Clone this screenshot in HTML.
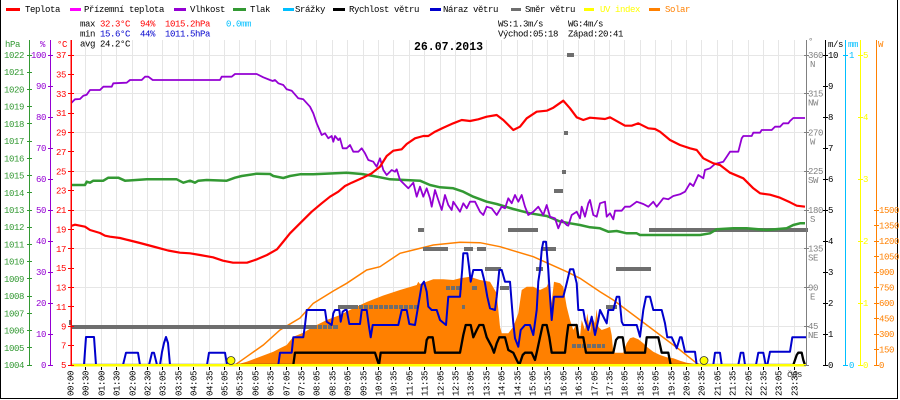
<!DOCTYPE html>
<html><head><meta charset="utf-8"><style>
html,body{margin:0;padding:0;background:#fff;}
svg{display:block;}
text{font-family:"Liberation Mono",monospace;font-size:9px;letter-spacing:-0.4px;}
</style></head><body>
<svg width="900" height="400" viewBox="0 0 900 400" xmlns="http://www.w3.org/2000/svg">
<rect x="0" y="0" width="900" height="400" fill="#fff"/>
<!-- frame -->
<path d="M0.5 0V398.5H897.5V0" fill="none" stroke="#000" stroke-width="1"/>

<!-- legend -->
<g>
<rect x="6" y="8" width="14" height="3" fill="#ff0000"/><text x="25" y="12" fill="#000">Teplota</text>
<rect x="70" y="8" width="11" height="3" fill="#ff00ff"/><text x="84" y="12" fill="#000">Přízemní teplota</text>
<rect x="174" y="8" width="12" height="3" fill="#9400d3"/><text x="190" y="12" fill="#000">Vlhkost</text>
<rect x="233" y="8" width="13" height="3" fill="#339933"/><text x="250" y="12" fill="#000">Tlak</text>
<rect x="283" y="8" width="11" height="3" fill="#00bfff"/><text x="295" y="12" fill="#000">Srážky</text>
<rect x="333" y="8" width="12" height="3" fill="#000"/><text x="349" y="12" fill="#000">Rychlost větru</text>
<rect x="430" y="8" width="11" height="3" fill="#0000cd"/><text x="443" y="12" fill="#000">Náraz větru</text>
<rect x="511" y="8" width="10" height="3" fill="#6e6e6e"/><text x="525" y="12" fill="#000">Směr větru</text>
<rect x="584" y="8" width="10" height="3" fill="#ffff00"/><text x="600" y="12" fill="#ffff00">UV index</text>
<rect x="649" y="8" width="11" height="3" fill="#ff8000"/><text x="665" y="12" fill="#ff8000">Solar</text>
</g>

<!-- stats -->
<text x="80" y="26.5" fill="#000">max</text>
<text x="100" y="26.5" fill="#ff0000">32.3°C</text>
<text x="140" y="26.5" fill="#ff0000">94%</text>
<text x="165" y="26.5" fill="#ff0000">1015.2hPa</text>
<text x="226" y="26.5" fill="#00bfff">0.0mm</text>
<text x="80" y="36.5" fill="#000">min</text>
<text x="100" y="36.5" fill="#0000cd">15.6°C</text>
<text x="140" y="36.5" fill="#0000cd">44%</text>
<text x="165" y="36.5" fill="#0000cd">1011.5hPa</text>
<text x="498" y="26.5" fill="#000">WS:1.3m/s</text>
<text x="568" y="26.5" fill="#000">WG:4m/s</text>
<text x="498" y="36.5" fill="#000">Východ:05:18</text>
<text x="568" y="36.5" fill="#000">Západ:20:41</text>

<!-- grid -->
<g stroke="#e6e6e6" stroke-width="1" shape-rendering="crispEdges">
<path d="M71 55.5H806M71 93.5H806M71 132.5H806M71 171.5H806M71 210.5H806M71 248.5H806M71 287.5H806M71 326.5H806"/>
<path d="M85.5 40V365M101.5 40V365M116.5 40V365M132.5 40V365M147.5 40V365M162.5 40V365M178.5 40V365M193.5 40V365M209.5 40V365M224.5 40V365M239.5 40V365M255.5 40V365M270.5 40V365M286.5 40V365M301.5 40V365M316.5 40V365M332.5 40V365M347.5 40V365M363.5 40V365M378.5 40V365M393.5 40V365M409.5 40V365M424.5 40V365M440.5 40V365M455.5 40V365M470.5 40V365M486.5 40V365M501.5 40V365M517.5 40V365M532.5 40V365M547.5 40V365M563.5 40V365M578.5 40V365M594.5 40V365M609.5 40V365M624.5 40V365M640.5 40V365M655.5 40V365M671.5 40V365M686.5 40V365M701.5 40V365M717.5 40V365M732.5 40V365M748.5 40V365M763.5 40V365M778.5 40V365M794.5 40V365"/>
</g>

<text x="80" y="46.5" fill="#000">avg 24.2°C</text>
<text x="414" y="50" fill="#000" style="font-size:11.5px;font-weight:bold;letter-spacing:0px">26.07.2013</text>

<!-- solar area -->
<polygon fill="#ff8000" points="235,365 246.7,361.7 260,356.7 273.3,351.7 280,348.3 286.7,345 293.3,336.7 303.3,332.7 313.3,326.7 326.7,320 340,315 353.3,308.3 366.7,302 383.3,295.5 400,290 416.7,285 418.3,281.7 420,284 433.3,279.3 443.3,279.3 453.3,280 460,278.3 470,276.7 480,280 490,281.7 496.7,293.3 500,326.7 501.7,333.3 508.3,333.3 513.3,326.7 518.3,313.3 521.7,290 526.7,286.7 533.3,286.7 540,290 546.7,286.7 548.3,283.3 550.7,310 554,281.7 560,283.3 563.3,286.7 565,296.7 566.7,306.7 570,320 573.3,330 576.7,323.3 580,336.7 581.7,320 585,330 587.3,313.3 590,333.3 591.7,316.7 595,323.3 596.7,309.3 598.3,326.7 601.7,330 606.7,328.3 610,326.7 611.7,335 613.3,352.7 623.3,352.7 626.7,343.3 630,338.3 633.3,337.3 638.3,339.3 643.3,343.3 646.7,346.7 653.3,351.7 660,355 666.7,357.3 673.3,358.3 680,360.7 686.7,362.7 695,364 700,365"/>
<!-- theoretical solar -->
<polyline fill="none" stroke="#ff8000" stroke-width="1.5" points="235,365 246.7,356.7 263.3,345 280,330 300,318 313.3,303.3 333.3,291 346.7,283.3 366.7,270 380,266.7 400,253.3 413.3,250 433.3,245 460,242.3 480,242.7 500,246.7 533.3,256.7 566.7,271.7 580,278.3 600,291.7 613.3,300 646.7,325 680,350 696.7,363.3 700,365"/>

<!-- wind direction -->
<g fill="#6e6e6e">
<rect x="69" y="320" width="3" height="5"/>
<rect x="71" y="325" width="246" height="4"/>
<rect x="318" y="325" width="4" height="4"/><rect x="323" y="325" width="4" height="4"/><rect x="328" y="325" width="4" height="4"/><rect x="333" y="325" width="5" height="4"/>
<rect x="338" y="305" width="20" height="4"/>
<rect x="359" y="305" width="4" height="4"/><rect x="364" y="305" width="4" height="4"/><rect x="369" y="305" width="4" height="4"/><rect x="374" y="305" width="4" height="4"/><rect x="379" y="305" width="4" height="4"/><rect x="384" y="305" width="4" height="4"/><rect x="389" y="305" width="4" height="4"/><rect x="394" y="305" width="4" height="4"/><rect x="399" y="305" width="4" height="4"/><rect x="404" y="305" width="4" height="4"/><rect x="409" y="305" width="4" height="4"/><rect x="414" y="305" width="4" height="4"/>
<rect x="418" y="228" width="6" height="4"/>
<rect x="423" y="247" width="25" height="4"/>
<rect x="446" y="286" width="4" height="4"/><rect x="451" y="286" width="4" height="4"/><rect x="456" y="286" width="6" height="4"/>
<rect x="462" y="305" width="3" height="4"/>
<rect x="464" y="247" width="9" height="4"/>
<rect x="472" y="286" width="5" height="4"/>
<rect x="477" y="247" width="9" height="4"/>
<rect x="485" y="267" width="16" height="4"/>
<rect x="500" y="286" width="9" height="4"/>
<rect x="508" y="228" width="30" height="4"/>
<rect x="536" y="267" width="7" height="4"/>
<rect x="541" y="247" width="15" height="4"/>
<rect x="554" y="189" width="9" height="4"/>
<rect x="562" y="170" width="4" height="4"/>
<rect x="564" y="131" width="4" height="4"/>
<rect x="567" y="53" width="7" height="4"/>
<rect x="572" y="344" width="4" height="4"/><rect x="577" y="344" width="4" height="4"/><rect x="582" y="344" width="4" height="4"/><rect x="587" y="344" width="4" height="4"/><rect x="592" y="344" width="4" height="4"/><rect x="597" y="344" width="4" height="4"/><rect x="602" y="344" width="3" height="4"/>
<rect x="606" y="305" width="11" height="4"/>
<rect x="616" y="267" width="35" height="4"/>
<rect x="649" y="228" width="159" height="4"/>
</g>

<!-- pressure -->
<polyline fill="none" stroke="#339933" stroke-width="2.5" stroke-linejoin="round" points="71,185 85,185 86.7,181.7 90,182.7 93.3,180.7 103.3,180.7 108.3,177.7 118.3,177.7 125,180.7 146.7,179.3 176.7,179.3 183.3,182.7 190,180.7 195,182.7 198.3,180.7 206.7,180 226.7,180.7 235,177.7 241.7,176 256.7,173.7 270,174 273.3,176 283.3,178 290,176 300,174.3 313.3,174.3 346.7,172.7 361.7,174 373.3,176 380,177.3 390,179.3 420,180.7 430,185 440,187.3 453.3,188.3 463.3,191.7 473.3,196.7 486.7,201.7 496.7,204 513.3,209 530,213.3 546.7,216 560,221.5 570,223.3 580,225 590,227.3 600,228.3 608.3,231.7 616.7,231 626.7,233.3 636.7,233.3 640,235 700,235 710,233.3 716.7,229.3 733.3,228.3 746.7,228.3 766.7,230 786.7,228.3 793.3,225 800,223.3 805,223.3"/>

<!-- humidity -->
<polyline fill="none" stroke="#9400d3" stroke-width="1.8" stroke-linejoin="round" points="71,103.3 75,99.3 80,99 83.3,95.7 86.7,94.7 90,90 100,90 103.3,86.7 111.7,86.7 113.3,83.3 126.7,82.7 130,80 141.7,80 145,76.7 148.3,76.7 152.7,80 220,80 221.7,76.7 231.7,76.7 235,74 256.7,74 263.3,77.3 270,80 272.7,81 275,80 278.3,83.3 283.3,85 286.7,89.3 291.7,90.7 298.3,98.3 303.3,99.3 310,106.7 313.3,113.3 316.7,123.3 321.7,135 325,133.3 328.3,138.3 331.7,136 333.3,141.7 335,136 338.3,140 340,138.3 342.7,148.3 346.7,148.3 350,145 353.3,151.7 358.3,151.7 361.7,148.3 365,153.3 368.3,160 373.3,161.7 376.7,166.7 380,158.3 383.3,170 386.7,175 391.7,170 395,171.7 396.7,169.3 400,180 405,185 408.3,188.3 413.3,182.7 416.7,196.7 420,186.7 423.3,196.7 426.7,188.3 430,198.3 431.7,206.7 435,190 438.3,200 441.7,210 445,195 448.3,205 451.7,210 453.3,201.7 456.7,206.7 460,211.7 463.3,203.3 466.7,208.3 470,201.7 475,201.7 480,211.7 483.3,215 486.7,206.7 491.7,208.3 496.7,215 501.7,206.7 505,208.3 508.3,198.3 511.7,203.3 515,195 518.3,201.7 521.7,195 525,206.7 528.3,215 533.3,211.7 538.3,206.7 543.3,215 546.7,205 550,216.7 555,218.3 558.3,228.3 561.7,220 566.7,225 568.3,225.7 571.7,215 576.7,211.7 580,218.3 581.7,206.7 585,216.7 588.3,203.3 590,200 593.3,215 596.7,216.7 600,203.3 605,201.7 606.7,216.7 610,213.3 613.3,219.3 615,210.7 621.7,210.7 625,206.7 630,206.7 636.7,201.7 643.3,204 648.3,206.7 653.3,201.7 656.7,206.7 663.3,198.3 668.3,199.3 673.3,196 680,194.3 685,191.7 690,183.3 693.3,186 698.3,175 703.3,178.3 705,170 710,168.3 715,164 723.3,161.7 726.7,156.7 730,151.7 738.3,151.7 741.7,138.3 743.3,136 751.7,136 753.3,132.7 760,132.7 761.7,130 771.7,130 775,126.7 780,126.7 783.3,123.3 788.3,123.3 790,121 793.3,118 805,118"/>

<!-- temperature -->
<polyline fill="none" stroke="#ff0000" stroke-width="2.2" stroke-linejoin="round" points="71,226 75,224.7 85,226.7 90,230 100,233 105,235.7 110,236.7 120,238 128,240 140,243 155,247 168,250.5 180,252.7 190,253.3 200,255 213,257.3 223,260.7 233,262.7 247,262.7 257,259.3 267,255 277,249.3 283,242 290,233.3 300,223.3 311.7,211.7 321.7,203.3 330,196.7 338.3,191.7 345,186 351.7,182.7 361.7,178.3 371.7,173.3 380,166.7 386.7,156 393.3,150.7 401.7,149.3 406.7,144 415,138.3 423.3,136 428.3,136 435,131.7 443.3,127.7 453.3,123.3 461.7,120 470,121 478.3,119.3 486.7,116.7 496.7,115 503.3,120 513.3,130 520,126.7 526.7,118.3 536.7,111.7 546.7,110.7 553.3,107.7 563.3,100.7 570,108.3 576.7,117.3 583.3,120 590,117.7 605,119 610,117.3 625,125.7 631.7,125.7 638.3,123.3 648.3,128.3 655,129 660,131.7 670,140 680,145 690,148.3 696.7,150 703.3,158.3 713.3,163.3 720,165 730,172.7 743.3,178.3 753.3,188.3 760,193.3 770,194.7 780,197.7 790,202.3 796.7,205.7 805,206.7"/>

<!-- wind speed -->
<polyline fill="none" stroke="#000" stroke-width="2.3" stroke-linejoin="round" points="71,365 293.3,365 295,352.7 375,352.7 377.3,360 379,365 380.7,352.7 425,352.7 426.7,340 428.3,337.3 432.7,337.3 435,352.7 460,352.7 463.3,335 465.7,325 470.7,325 473.3,337.3 476.7,330 479.3,325 483.3,325 486.7,337.3 491.7,346.7 494,352.7 496.7,343.3 499.3,337.3 505,337.3 508.3,350 513.3,352.7 516.7,360 519.3,365 522.7,355 525,352.7 531.7,352.7 535,360 537.3,350 540,337.3 542.7,325 546.7,325 549.3,337.3 551.7,352.7 565,352.7 566.7,337.3 568.3,325 576.7,325 578.3,337.3 583.3,337.3 586,352.7 613.3,352.7 616,340 618.3,337.3 622.7,337.3 625,352.7 645,352.7 646.7,337.3 658.3,337.3 660,345 661.7,352.7 668.3,352.7 670.7,365 793.3,365 796.7,355 798.3,352.7 801.7,352.7 803.3,360 805,365"/>

<!-- gust -->
<polyline fill="none" stroke="#0000cd" stroke-width="2" stroke-linejoin="round" points="71,365 84,365 86,337 94,337 96,365 123,365 126,352.7 138,352.7 140,365 149,365 152,352.7 154,352.7 157,365 160,365 162,352 164,343 166,337 168,343 170,365 207,365 209,352.7 225,352.7 227,365 278.3,365 280,352.7 291.7,352.7 293.3,337.3 303.3,337.3 305,325 306.7,310 325,310 326.7,321.7 331.7,325 333.3,313.3 335,310 339.3,310 340.7,321.7 342.7,311.7 345,310 346.7,310 349.3,324 360,324 361.7,310 366.7,310 369,326.7 370.7,337.3 372.7,325 398.3,325 401.7,310 406.7,310 409.3,324 415,325 421.7,285 424,281.7 426.7,291.7 428.3,306.7 431.7,310 436.7,310 440,320 446,325 448.3,296.7 460,296.7 462.3,268.3 463.3,253.3 467.3,253.3 469,266.7 470.7,281.7 473.3,270 481.7,270 485,283.3 487.3,296.7 490,308.3 495,310 496.7,296.7 499.3,270 501.7,270 505,281.7 510,281.7 511.7,303.3 513.3,323.3 515,338.3 518.3,346.7 520.7,330 525,325 530,325 533.3,335 536.7,310 538.3,281.7 540,270 541.7,250 543.3,241.7 546,241.7 548.3,270 550,296.7 551.7,320 554,296.7 563.3,296.7 566.7,283.3 570,269.3 573.3,269.3 576.7,283.3 578.3,310 583.3,310 585,320 588.3,330 591.7,316.7 595,335 598.3,320 600,310 605,320 606.7,323.3 608.3,310 613.3,310 616.7,296.7 619.3,296.7 621.7,321.7 623.3,325 636.7,325 640,336.7 643.3,310 646,296.7 650,296.7 653.3,310 661.7,310 665,323.3 667.3,337.3 671.7,337.3 676.7,348.3 680,337.3 681.7,337.3 685,351.7 695,351.7 696.7,365 713.3,365 715,352.7 720,352.7 721.7,365 738.3,365 740.7,352.7 743.3,352.7 745,365 756,365 758.3,352.7 763.3,352.7 765.7,365 767.3,365 770,351.7 790,351.7 792.3,337.3 806,337.3"/>

<!-- UV baseline -->
<line x1="71" y1="365.3" x2="806" y2="365.3" stroke="#ffff00" stroke-width="2.5"/>
<circle cx="231" cy="360.5" r="4" fill="#ffff00" stroke="#333" stroke-width="0.8"/>
<circle cx="704" cy="360.5" r="4" fill="#ffff00" stroke="#333" stroke-width="0.8"/>

<!-- bottom ticks -->
<path stroke="#000" stroke-width="1" shape-rendering="crispEdges" d="M85.5 367V370M101.5 367V370M116.5 367V370M132.5 367V370M147.5 367V370M162.5 367V370M178.5 367V370M193.5 367V370M209.5 367V370M224.5 367V370M239.5 367V370M255.5 367V370M270.5 367V370M286.5 367V370M301.5 367V370M316.5 367V370M332.5 367V370M347.5 367V370M363.5 367V370M378.5 367V370M393.5 367V370M409.5 367V370M424.5 367V370M440.5 367V370M455.5 367V370M470.5 367V370M486.5 367V370M501.5 367V370M517.5 367V370M532.5 367V370M547.5 367V370M563.5 367V370M578.5 367V370M594.5 367V370M609.5 367V370M624.5 367V370M640.5 367V370M655.5 367V370M671.5 367V370M686.5 367V370M701.5 367V370M717.5 367V370M732.5 367V370M748.5 367V370M763.5 367V370M778.5 367V370M794.5 367V370"/>

<!-- time labels -->
<g fill="#000" style="font-size:8.5px;letter-spacing:-0.2px">
<text transform="translate(73.5,396) rotate(-90)">00:00</text>
<text transform="translate(88.5,396) rotate(-90)">00:30</text>
<text transform="translate(104.5,396) rotate(-90)">01:00</text>
<text transform="translate(119.5,396) rotate(-90)">01:30</text>
<text transform="translate(135.5,396) rotate(-90)">02:00</text>
<text transform="translate(150.5,396) rotate(-90)">02:30</text>
<text transform="translate(165.5,396) rotate(-90)">03:05</text>
<text transform="translate(181.5,396) rotate(-90)">03:35</text>
<text transform="translate(196.5,396) rotate(-90)">04:05</text>
<text transform="translate(212.5,396) rotate(-90)">04:35</text>
<text transform="translate(227.5,396) rotate(-90)">05:05</text>
<text transform="translate(242.5,396) rotate(-90)">05:35</text>
<text transform="translate(258.5,396) rotate(-90)">06:05</text>
<text transform="translate(273.5,396) rotate(-90)">06:35</text>
<text transform="translate(289.5,396) rotate(-90)">07:05</text>
<text transform="translate(304.5,396) rotate(-90)">07:35</text>
<text transform="translate(319.5,396) rotate(-90)">08:05</text>
<text transform="translate(335.5,396) rotate(-90)">08:35</text>
<text transform="translate(350.5,396) rotate(-90)">09:05</text>
<text transform="translate(366.5,396) rotate(-90)">09:35</text>
<text transform="translate(381.5,396) rotate(-90)">10:05</text>
<text transform="translate(396.5,396) rotate(-90)">10:35</text>
<text transform="translate(412.5,396) rotate(-90)">11:05</text>
<text transform="translate(427.5,396) rotate(-90)">11:35</text>
<text transform="translate(443.5,396) rotate(-90)">12:05</text>
<text transform="translate(458.5,396) rotate(-90)">12:35</text>
<text transform="translate(473.5,396) rotate(-90)">13:05</text>
<text transform="translate(489.5,396) rotate(-90)">13:35</text>
<text transform="translate(504.5,396) rotate(-90)">14:05</text>
<text transform="translate(520.5,396) rotate(-90)">14:35</text>
<text transform="translate(535.5,396) rotate(-90)">15:05</text>
<text transform="translate(550.5,396) rotate(-90)">15:35</text>
<text transform="translate(566.5,396) rotate(-90)">16:05</text>
<text transform="translate(581.5,396) rotate(-90)">16:35</text>
<text transform="translate(597.5,396) rotate(-90)">17:05</text>
<text transform="translate(612.5,396) rotate(-90)">17:35</text>
<text transform="translate(627.5,396) rotate(-90)">18:05</text>
<text transform="translate(643.5,396) rotate(-90)">18:35</text>
<text transform="translate(658.5,396) rotate(-90)">19:05</text>
<text transform="translate(674.5,396) rotate(-90)">19:35</text>
<text transform="translate(689.5,396) rotate(-90)">20:05</text>
<text transform="translate(704.5,396) rotate(-90)">20:35</text>
<text transform="translate(720.5,396) rotate(-90)">21:05</text>
<text transform="translate(735.5,396) rotate(-90)">21:35</text>
<text transform="translate(751.5,396) rotate(-90)">22:05</text>
<text transform="translate(766.5,396) rotate(-90)">22:35</text>
<text transform="translate(781.5,396) rotate(-90)">23:05</text>
<text transform="translate(797.5,396) rotate(-90)">23:35</text>
</g>
<text x="787" y="377" fill="#333">čas</text>

<!-- LEFT AXES -->
<!-- pressure -->
<g stroke="#339933" stroke-width="1" shape-rendering="crispEdges">
<line x1="29.5" y1="40" x2="29.5" y2="366"/>
<path d="M27 55.5H32M27 72.5H32M27 89.5H32M27 106.5H32M27 123.5H32M27 141.5H32M27 158.5H32M27 175.5H32M27 192.5H32M27 210.5H32M27 227.5H32M27 244.5H32M27 261.5H32M27 278.5H32M27 296.5H32M27 313.5H32M27 330.5H32M27 347.5H32M27 365.5H32"/>
</g>
<g fill="#339933" text-anchor="end">
<text x="5" y="47" text-anchor="start">hPa</text>
<text x="24" y="58">1022</text><text x="24" y="75.2">1021</text><text x="24" y="92.4">1020</text><text x="24" y="109.7">1019</text><text x="24" y="126.9">1018</text><text x="24" y="144.1">1017</text><text x="24" y="161.3">1016</text><text x="24" y="178.6">1015</text><text x="24" y="195.8">1014</text><text x="24" y="213">1013</text><text x="24" y="230.2">1012</text><text x="24" y="247.4">1011</text><text x="24" y="264.7">1010</text><text x="24" y="281.9">1009</text><text x="24" y="299.1">1008</text><text x="24" y="316.3">1007</text><text x="24" y="333.6">1006</text><text x="24" y="350.8">1005</text><text x="24" y="368">1004</text>
</g>
<!-- humidity -->
<g stroke="#9400d3" stroke-width="1" shape-rendering="crispEdges">
<line x1="50.5" y1="40" x2="50.5" y2="366"/>
<path d="M48 55.5H53M48 86.5H53M48 117.5H53M48 148.5H53M48 179.5H53M48 210.5H53M48 241.5H53M48 272.5H53M48 303.5H53M48 334.5H53M48 365.5H53"/>
</g>
<g fill="#9400d3" text-anchor="end">
<text x="45" y="47">%</text>
<text x="46" y="58">100</text><text x="46" y="89">90</text><text x="46" y="120">80</text><text x="46" y="151">70</text><text x="46" y="182">60</text><text x="46" y="213">50</text><text x="46" y="244">40</text><text x="46" y="275">30</text><text x="46" y="306">20</text><text x="46" y="337">10</text><text x="46" y="368">0</text>
</g>
<!-- temperature -->
<g stroke="#ff0000" stroke-width="1" shape-rendering="crispEdges">
<line x1="71" y1="40" x2="71" y2="366" stroke-width="1.5"/>
<path d="M68 55.5H74M68 74.5H74M68 93.5H74M68 113.5H74M68 132.5H74M68 151.5H74M68 171.5H74M68 190.5H74M68 210.5H74M68 229.5H74M68 248.5H74M68 268.5H74M68 287.5H74M68 306.5H74M68 326.5H74M68 345.5H74M68 365.5H74"/>
</g>
<g fill="#ff0000" text-anchor="end">
<text x="67" y="47">°C</text>
<text x="66" y="58">37</text><text x="66" y="77.4">35</text><text x="66" y="96.8">33</text><text x="66" y="116.1">31</text><text x="66" y="135.5">29</text><text x="66" y="154.9">27</text><text x="66" y="174.3">25</text><text x="66" y="193.6">23</text><text x="66" y="213">21</text><text x="66" y="232.4">19</text><text x="66" y="251.8">17</text><text x="66" y="271.1">15</text><text x="66" y="290.5">13</text><text x="66" y="309.9">11</text><text x="66" y="329.3">9</text><text x="66" y="348.6">7</text><text x="66" y="368">5</text>
</g>

<!-- RIGHT AXES -->
<!-- wind dir -->
<g stroke="#808080" stroke-width="1" shape-rendering="crispEdges">
<line x1="806.5" y1="40" x2="806.5" y2="366"/>
<path d="M804 55.5H809M804 93.5H809M804 132.5H809M804 171.5H809M804 210.5H809M804 248.5H809M804 287.5H809M804 326.5H809M804 365.5H809"/>
</g>
<g fill="#808080">
<text x="808" y="44">°</text>
<text x="808" y="58">360</text><text x="810" y="67">N</text>
<text x="808" y="96.7">315</text><text x="808" y="105.7">NW</text>
<text x="808" y="135.5">270</text><text x="810" y="144.5">W</text>
<text x="808" y="174.2">225</text><text x="808" y="183.2">SW</text>
<text x="808" y="213">180</text><text x="810" y="222">S</text>
<text x="808" y="251.7">135</text><text x="808" y="260.7">SE</text>
<text x="808" y="290.5">90</text><text x="810" y="299.5">E</text>
<text x="808" y="329.2">45</text><text x="808" y="338.2">NE</text>
</g>
<!-- m/s -->
<g stroke="#000" stroke-width="1" shape-rendering="crispEdges">
<line x1="825.5" y1="40" x2="825.5" y2="366"/>
<path d="M823 55.5H828M823 86.5H828M823 117.5H828M823 148.5H828M823 179.5H828M823 210.5H828M823 241.5H828M823 272.5H828M823 303.5H828M823 334.5H828M823 365.5H828"/>
</g>
<g fill="#000">
<text x="828" y="47">m/s</text>
<text x="828" y="58">10</text><text x="828" y="89">9</text><text x="828" y="120">8</text><text x="828" y="151">7</text><text x="828" y="182">6</text><text x="828" y="213">5</text><text x="828" y="244">4</text><text x="828" y="275">3</text><text x="828" y="306">2</text><text x="828" y="337">1</text><text x="828" y="368">0</text>
</g>
<!-- mm -->
<g stroke="#00bfff" stroke-width="1" shape-rendering="crispEdges">
<line x1="845.5" y1="40" x2="845.5" y2="366"/>
<path d="M843 55.5H848M843 365.5H848"/>
</g>
<g fill="#00bfff">
<text x="848" y="47">mm</text>
<text x="849" y="58">1</text><text x="849" y="368">0</text>
</g>
<!-- UV -->
<g stroke="#ffff00" stroke-width="1" shape-rendering="crispEdges">
<line x1="860.5" y1="40" x2="860.5" y2="366"/>
<path d="M858 55.5H863M858 117.5H863M858 179.5H863M858 241.5H863M858 303.5H863M858 365.5H863"/>
</g>
<g fill="#ffff00">
<text x="863" y="58">5</text><text x="863" y="120">4</text><text x="863" y="182">3</text><text x="863" y="244">2</text><text x="863" y="306">1</text><text x="863" y="368">0</text>
</g>
<!-- W -->
<g stroke="#ff8000" stroke-width="1" shape-rendering="crispEdges">
<line x1="876.5" y1="40" x2="876.5" y2="366"/>
<path d="M874 210.5H879M874 225.5H879M874 241.5H879M874 256.5H879M874 272.5H879M874 287.5H879M874 303.5H879M874 318.5H879M874 334.5H879M874 349.5H879M874 365.5H879"/>
</g>
<g fill="#ff8000">
<text x="878" y="47">W</text>
<text x="879" y="213">1500</text><text x="879" y="228.5">1350</text><text x="879" y="244">1200</text><text x="879" y="259.5">1050</text><text x="879" y="275">900</text><text x="879" y="290.5">750</text><text x="879" y="306">600</text><text x="879" y="321.5">450</text><text x="879" y="337">300</text><text x="879" y="352.5">150</text><text x="879" y="368">0</text>
</g>
</svg>
</body></html>
